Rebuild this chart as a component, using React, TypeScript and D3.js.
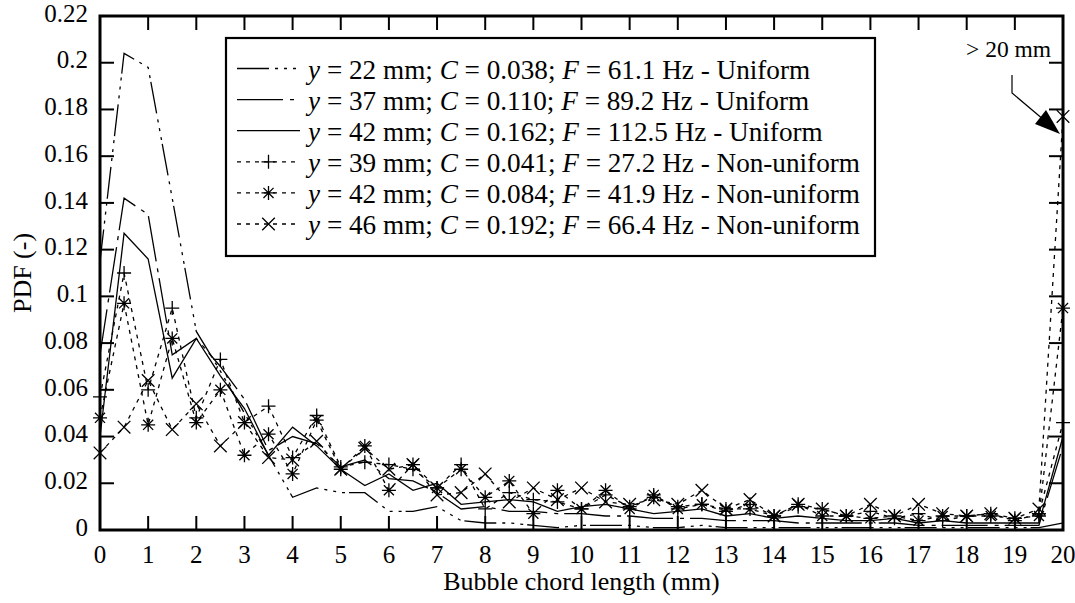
import React from "react";
import * as d3 from "d3";

// Bubble chord length bins (mm)
const chordLength = [
  0, 0.5, 1, 1.5, 2, 2.5, 3, 3.5, 4, 4.5, 5, 5.5, 6, 6.5, 7, 7.5, 8, 8.5, 9, 9.5,
  10, 10.5, 11, 11.5, 12, 12.5, 13, 13.5, 14, 14.5, 15, 15.5, 16, 16.5, 17, 17.5,
  18, 18.5, 19, 19.5, 20,
];

// PDF values per series
const pdfY22Uniform = [
  0.115, 0.204, 0.198, 0.142, 0.085, 0.068, 0.05, 0.032, 0.014, 0.018, 0.016, 0.016,
  0.008, 0.008, 0.01, 0.004, 0.003, 0.003, 0.002, 0.001, 0.002, 0.002, 0.002, 0.001,
  0.001, 0.002, 0.001, 0.001, 0.001, 0.001, 0.001, 0.001, 0.001, 0.001, 0.001, 0.001,
  0.001, 0.001, 0.001, 0.001, 0.003,
];
const pdfY37Uniform = [
  0.075, 0.142, 0.135, 0.075, 0.082, 0.07, 0.056, 0.034, 0.04, 0.037, 0.027, 0.03,
  0.022, 0.021, 0.016, 0.009, 0.01, 0.008, 0.008, 0.007, 0.007, 0.006, 0.006, 0.005,
  0.005, 0.005, 0.004, 0.004, 0.004, 0.003, 0.003, 0.003, 0.003, 0.003, 0.002, 0.002,
  0.002, 0.002, 0.002, 0.002, 0.036,
];
const pdfY42Uniform = [
  0.04, 0.127, 0.116, 0.065, 0.082, 0.066, 0.052, 0.032, 0.044, 0.036, 0.026, 0.019,
  0.024, 0.017, 0.02, 0.011, 0.012, 0.013, 0.012, 0.008, 0.01, 0.011, 0.009, 0.007,
  0.008, 0.009, 0.006, 0.007, 0.005, 0.006, 0.005, 0.004, 0.004, 0.005, 0.003, 0.004,
  0.003, 0.003, 0.003, 0.003, 0.04,
];
const pdfY39NonUniform = [
  0.057, 0.11, 0.06, 0.095, 0.048, 0.073, 0.046, 0.053, 0.031, 0.049, 0.027, 0.029,
  0.028, 0.026, 0.018, 0.028, 0.009, 0.016, 0.013, 0.012, 0.009, 0.015, 0.01, 0.014,
  0.01, 0.011, 0.008, 0.011, 0.006, 0.01, 0.009, 0.006, 0.008, 0.005, 0.007, 0.004,
  0.006, 0.007, 0.004, 0.007, 0.046,
];
const pdfY42NonUniform = [
  0.048, 0.097, 0.045, 0.082, 0.046, 0.06, 0.032, 0.041, 0.024, 0.047, 0.026, 0.036,
  0.017, 0.028, 0.018, 0.026, 0.014, 0.021, 0.007, 0.017, 0.009, 0.017, 0.009, 0.015,
  0.009, 0.011, 0.009, 0.009, 0.006, 0.011, 0.006, 0.006, 0.005, 0.006, 0.004, 0.006,
  0.006, 0.006, 0.005, 0.006, 0.095,
];
const pdfY46NonUniform = [
  0.033, 0.044, 0.064, 0.043, 0.054, 0.036, 0.046, 0.031, 0.03, 0.038, 0.026, 0.035,
  0.026, 0.028, 0.015, 0.016, 0.024, 0.012, 0.018, 0.013, 0.018, 0.012, 0.011, 0.013,
  0.011, 0.017, 0.009, 0.013, 0.006, 0.011, 0.009, 0.006, 0.011, 0.006, 0.011, 0.007,
  0.006, 0.007, 0.005, 0.009, 0.177,
];

// Legend entries
const legendHeight = ["22", "37", "42", "39", "42", "46"];
const legendC = ["0.038", "0.110", "0.162", "0.041", "0.084", "0.192"];
const legendF = ["61.1", "89.2", "112.5", "27.2", "41.9", "66.4"];
const legendKind = ["Uniform", "Uniform", "Uniform", "Non-uniform", "Non-uniform", "Non-uniform"];

// Axis ticks
const xTickValues = [0, 1, 2, 3, 4, 5, 6, 7, 8, 9, 10, 11, 12, 13, 14, 15, 16, 17, 18, 19, 20];
const yTickValues = [0, 0.02, 0.04, 0.06, 0.08, 0.1, 0.12, 0.14, 0.16, 0.18, 0.2, 0.22];
const yTickLabels = ["0", "0.02", "0.04", "0.06", "0.08", "0.1", "0.12", "0.14", "0.16", "0.18", "0.2", "0.22"];

const allSeries = [
  pdfY22Uniform,
  pdfY37Uniform,
  pdfY42Uniform,
  pdfY39NonUniform,
  pdfY42NonUniform,
  pdfY46NonUniform,
];
const dashes = ["32,6,3,6,3,6,3,4", "46,7,4,6", null, "4,5", "4,5", "4,5"];
const markers: (string | null)[] = [null, null, null, "plus", "star", "cross"];

const FONT = "'Liberation Serif', 'Times New Roman', serif";
const W = 1075;
const H = 603;
const left = 100;
const right = 1063;
const top = 16;
const bottom = 530;

function markerPath(kind: string, s: number): string {
  if (kind === "plus") return `M${-s},0H${s}M0,${-s}V${s}`;
  if (kind === "cross") {
    const c = s * 0.9;
    return `M${-c},${-c}L${c},${c}M${-c},${c}L${c},${-c}`;
  }
  const d = s * 0.72;
  return `M${-s},0H${s}M0,${-s}V${s}M${-d},${-d}L${d},${d}M${-d},${d}L${d},${-d}`;
}

export default function App() {
  const x = d3.scaleLinear().domain([0, 20]).range([left, right]);
  const y = d3.scaleLinear().domain([0, 0.22]).range([bottom, top]);
  const line = d3
    .line<number>()
    .x((_, i) => x(chordLength[i]))
    .y((d) => y(d));

  const tickLen = 14;
  const legX = 226;
  const legY = 38;
  const legW = 649;
  const legH = 218;
  const rowY0 = 68.5;
  const rowStep = 31.1;

  return (
    <svg
      width={W}
      height={H}
      style={{ position: "absolute", left: 0, top: 0, background: "#fff" }}
      fontFamily={FONT}
    >
      <rect x={0} y={0} width={W} height={H} fill="#fff" />

      {/* data lines */}
      {allSeries.map((s, k) => (
        <path
          key={"l" + k}
          d={line(s) || ""}
          fill="none"
          stroke="#000"
          strokeWidth={1.3}
          strokeDasharray={dashes[k] || undefined}
        />
      ))}
      {/* markers */}
      {allSeries.map((s, k) =>
        markers[k]
          ? s.map((v, i) => (
              <path
                key={`m${k}-${i}`}
                d={markerPath(markers[k] as string, 7)}
                transform={`translate(${x(chordLength[i])},${y(v)})`}
                stroke="#000"
                strokeWidth={1.3}
                fill="none"
              />
            ))
          : null
      )}

      {/* ticks on all four sides */}
      {xTickValues.map((t) => (
        <g key={"xt" + t}>
          <line x1={x(t)} x2={x(t)} y1={bottom} y2={bottom - tickLen} stroke="#000" strokeWidth={2} />
          <line x1={x(t)} x2={x(t)} y1={top} y2={top + tickLen} stroke="#000" strokeWidth={2} />
          <text x={x(t)} y={557} fontSize={25} textAnchor="middle" dominantBaseline="middle">
            {t}
          </text>
        </g>
      ))}
      {yTickValues.map((t, i) => (
        <g key={"yt" + i}>
          <line x1={left} x2={left + tickLen} y1={y(t)} y2={y(t)} stroke="#000" strokeWidth={2} />
          <line x1={right} x2={right - tickLen} y1={y(t)} y2={y(t)} stroke="#000" strokeWidth={2} />
          <text x={88} y={y(t)} fontSize={25} textAnchor="end" dominantBaseline="middle">
            {yTickLabels[i]}
          </text>
        </g>
      ))}

      {/* frame */}
      <rect x={left} y={top} width={right - left} height={bottom - top} fill="none" stroke="#000" strokeWidth={3} />

      {/* axis titles */}
      <text x={(left + right) / 2} y={590} fontSize={26} textAnchor="middle">
        Bubble chord length (mm)
      </text>
      <text
        transform={`translate(31,${(top + bottom) / 2}) rotate(-90)`}
        fontSize={26}
        textAnchor="middle"
      >
        PDF (-)
      </text>

      {/* legend */}
      <rect x={legX} y={legY} width={legW} height={legH} fill="#fff" stroke="#000" strokeWidth={2.2} />
      {legendHeight.map((h, k) => {
        const ry = rowY0 + k * rowStep;
        return (
          <g key={"lg" + k}>
            <line
              x1={237}
              x2={300}
              y1={ry}
              y2={ry}
              stroke="#000"
              strokeWidth={1.3}
              strokeDasharray={dashes[k] || undefined}
            />
            {markers[k] ? (
              <path
                d={markerPath(markers[k] as string, 7)}
                transform={`translate(268.5,${ry})`}
                stroke="#000"
                strokeWidth={1.3}
                fill="none"
              />
            ) : null}
            <text x={308} y={ry + 10} fontSize={27.2}>
              <tspan fontStyle="italic">y</tspan>
              {` = ${h} mm; `}
              <tspan fontStyle="italic">C</tspan>
              {` = ${legendC[k]}; `}
              <tspan fontStyle="italic">F</tspan>
              {` = ${legendF[k]} Hz - ${legendKind[k]}`}
            </text>
          </g>
        );
      })}

      {/* annotation for the last bin */}
      <text x={966} y={57} fontSize={23.5}>
        {"> 20 mm"}
      </text>
      <polyline points="1012,75 1012,93 1044,120" fill="none" stroke="#000" strokeWidth={1.2} />
      <path d="M1060,134 L1035,124 L1046,110 Z" fill="#000" />
    </svg>
  );
}
